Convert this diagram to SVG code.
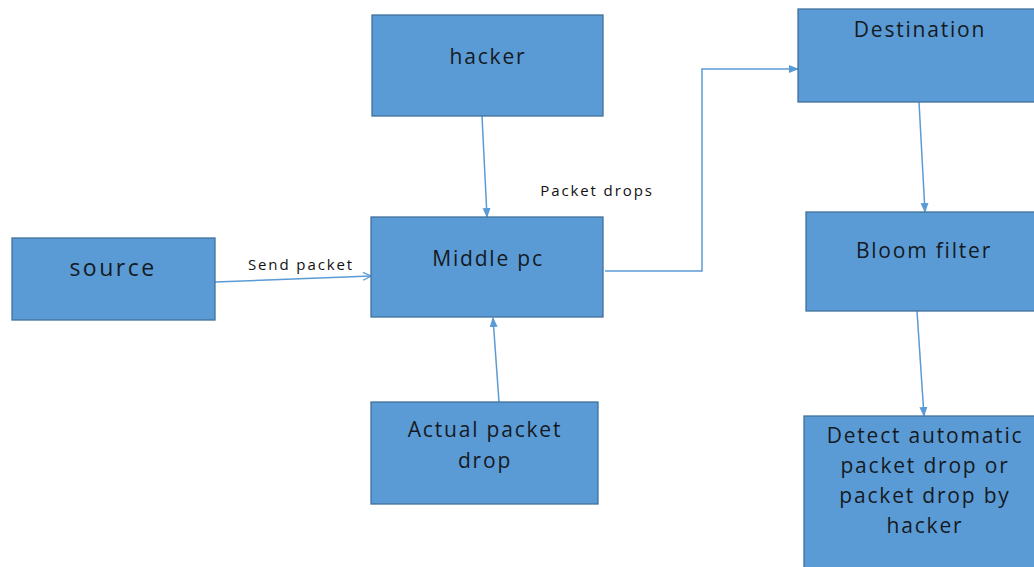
<svg xmlns="http://www.w3.org/2000/svg" width="1034" height="567" viewBox="0 0 1034 567">
<style>
.box{fill:#5b9bd5;stroke:#41719c;stroke-width:1.3}
.t{font-family:"Open Sans","Liberation Sans",sans-serif;font-size:21px;letter-spacing:1.8px;fill:#141a22;text-anchor:middle}
.lbl{font-family:"Open Sans","Liberation Sans",sans-serif;font-size:15px;letter-spacing:1.9px;fill:#111;text-anchor:middle}
.c{fill:none;stroke:#5b9bd5;stroke-width:1.5}
</style>
<defs>
<marker id="ah" markerWidth="10" markerHeight="10" refX="9" refY="5" orient="auto" markerUnits="userSpaceOnUse">
<path d="M0,1 L10,5 L0,9 Z" fill="#5b9bd5"/>
</marker>
<marker id="oh" markerWidth="10" markerHeight="10" refX="9" refY="5" orient="auto" markerUnits="userSpaceOnUse">
<path d="M1,1 L9,5 L1,9" fill="none" stroke="#5b9bd5" stroke-width="1.3"/>
</marker>
</defs>
<g id="connectors">
<line class="c" x1="215" y1="282" x2="371" y2="276" marker-end="url(#oh)"/>
<line class="c" x1="482" y1="116" x2="487" y2="217" marker-end="url(#ah)"/>
<line class="c" x1="499" y1="402" x2="493" y2="318" marker-end="url(#ah)"/>
<polyline class="c" points="605,271 702,271 702,69 798,69" marker-end="url(#ah)"/>
<line class="c" x1="919" y1="102" x2="925" y2="212" marker-end="url(#ah)"/>
<line class="c" x1="917" y1="311" x2="924" y2="416" marker-end="url(#ah)"/>
<text class="lbl" x="301" y="270">Send packet</text>
<text class="lbl" x="597" y="196">Packet drops</text>
</g>
<g id="source">
<rect class="box" x="12" y="238" width="203" height="82"/>
<text class="t" x="113" y="276" style="font-size:23px;letter-spacing:2.5px">source</text>
</g>
<g id="hacker">
<rect class="box" x="372" y="15" width="231" height="101"/>
<text class="t" x="488" y="64">hacker</text>
</g>
<g id="middle">
<rect class="box" x="371" y="217" width="232" height="100"/>
<text class="t" x="488" y="266">Middle pc</text>
</g>
<g id="actual">
<rect class="box" x="371" y="402" width="227" height="102"/>
<text class="t" x="485" y="437">Actual packet</text>
<text class="t" x="485" y="468">drop</text>
</g>
<g id="destination">
<rect class="box" x="798" y="9" width="240" height="93"/>
<text class="t" x="920" y="37">Destination</text>
</g>
<g id="bloom">
<rect class="box" x="806" y="212" width="232" height="99"/>
<text class="t" x="924" y="258">Bloom filter</text>
</g>
<g id="detect">
<rect class="box" x="804" y="416" width="234" height="170"/>
<text class="t" x="925" y="443">Detect automatic</text>
<text class="t" x="925" y="473">packet drop or</text>
<text class="t" x="925" y="503">packet drop by</text>
<text class="t" x="925" y="533">hacker</text>
</g>
</svg>
